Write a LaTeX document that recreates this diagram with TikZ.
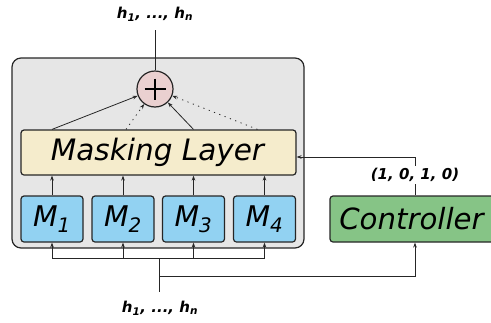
\documentclass[tikz,border=0pt]{standalone}
\usepackage{fontspec}
\setmainfont{DejaVu Sans}
\usetikzlibrary{arrows.meta,calc}
\definecolor{outerfill}{RGB}{230,230,230}
\definecolor{maskfill}{RGB}{245,236,204}
\definecolor{mfill}{RGB}{146,210,242}
\definecolor{ctrlfill}{RGB}{134,196,134}
\definecolor{plusfill}{RGB}{234,208,208}
\begin{document}
\begin{tikzpicture}[x=1pt,y=-1pt,
  box/.style={draw=black!85, line width=1.2pt, rounded corners=3pt, inner sep=0pt},
  mbox/.style={box, fill=mfill, minimum width=62pt, minimum height=46pt, font=\fontsize{28.5}{28.5}\selectfont\itshape},
  conn/.style={line width=0.8pt, draw=black!85},
  arr/.style={conn, -{Stealth[length=5pt,width=3.6pt]}},
  dotconn/.style={arr, dash pattern=on 1.2pt off 4.5pt},
  lab/.style={font=\fontsize{15}{15}\selectfont\bfseries\itshape}]
\useasboundingbox (0,0) rectangle (491,322);
% outer container
\draw[fill=outerfill, draw=black!85, line width=1.2pt, rounded corners=9pt] (12,58) rectangle (304,248);
% nodes
\node[box, fill=maskfill, minimum width=275pt, minimum height=45pt,
      font=\fontsize{29.5}{29.5}\selectfont\itshape] (mask) at (158.5,152.5) {\hspace*{-2pt}Masking Layer};
\node[mbox] (m1) at (52,219) {M\textsubscript{1}};
\node[mbox] (m2) at (123,219) {M\textsubscript{2}};
\node[mbox] (m3) at (193.5,219) {M\textsubscript{3}};
\node[mbox] (m4) at (264.5,219) {M\textsubscript{4}};
\node[box, fill=ctrlfill, minimum width=170pt, minimum height=46pt,
      font=\fontsize{29.2}{29.2}\selectfont\itshape] (ctrl) at (415,219) {\hspace*{-7pt}Controller};
\node[circle, draw=black!85, line width=1.2pt, fill=plusfill, minimum size=36pt, inner sep=0pt] (plus) at (155,89) {};
\draw[line width=2.5pt] ($(plus)+(-10.5,0)$) -- ($(plus)+(10.5,0)$);
\draw[line width=2.5pt] ($(plus)+(0,-10.5)$) -- ($(plus)+(0,10.5)$);
% top output
\node[lab] (htop) at (155,14) {h\textsubscript{1}, ..., h\textsubscript{n}};
\coordinate (topend) at (155,30);
\draw[conn] (plus.north) -- (topend);
% masking -> plus
\draw[arr] (m1.north |- mask.north) -- (plus);
\draw[dotconn] ($(m2.north |- mask.north)+(3,0)$) -- (plus);
\draw[arr] (m3.north |- mask.north) -- (plus);
\draw[dotconn] ($(m4.north |- mask.north)+(-7,0)$) -- (plus);
% M -> masking
\foreach \m in {m1,m2,m3,m4}{
  \draw[arr] (\m.north) -- (\m.north |- mask.south);
}
% bottom input
\coordinate (jl) at (52,258);
\coordinate (jr) at (264.5,258);
\coordinate (stemtop) at (159,258);
\coordinate (stembot) at (159,292);
\coordinate (branch) at (159,276);
\draw[conn] (jl) -- (jr);
\draw[conn] (stemtop) -- (stembot);
\foreach \m in {m1,m2,m3,m4}{
  \draw[arr] (\m.south |- jl) -- (\m.south);
}
\draw[arr] (branch) -| (ctrl.south);
\node[lab] (hbot) at (160,308) {h\textsubscript{1}, ..., h\textsubscript{n}};
% controller -> masking
\coordinate (cbend) at (415,157);
\draw[arr] (ctrl.north) -- (cbend) -- (mask.east |- cbend);
\node[lab, fill=white, inner sep=2pt] (mask vec) at (415,175) {(1, 0, 1, 0)};
\end{tikzpicture}
\end{document}
